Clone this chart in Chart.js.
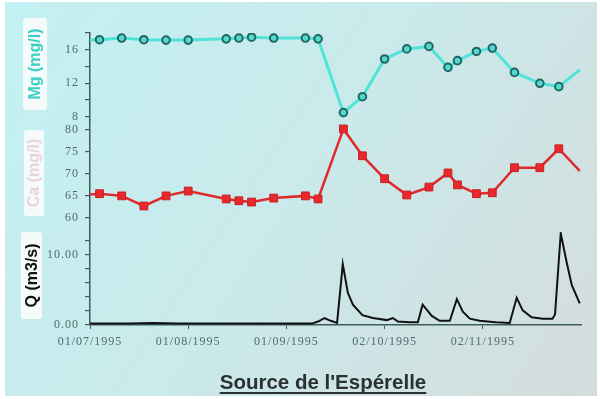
<!DOCTYPE html>
<html>
<head>
<meta charset="utf-8">
<script src="https://cdn.jsdelivr.net/npm/chart.js@4/dist/chart.umd.min.js"></script>
<style>
  html, body { margin: 0; padding: 0; background: #ffffff; }
  #wrap { width: 600px; height: 399px; }
</style>
</head>
<body>
<div id="wrap"><canvas id="c" width="600" height="399"></canvas></div>
<script>
// Sampling days, counted from 01/07/1995 (day 0)
const sampleDays = [0, 3, 10, 17, 24, 31, 43, 47, 51, 58, 68, 72, 80, 86, 93, 100, 107, 113, 116, 122, 127, 134, 142, 148, 154.6];
// Magnesium (mg/l)
const mgValues = [17.2, 17.2, 17.4, 17.2, 17.15, 17.15, 17.3, 17.4, 17.5, 17.4, 17.4, 17.3, 8.5, 10.4, 14.9, 16.1, 16.4, 13.9, 14.7, 15.8, 16.2, 13.3, 12.0, 11.6, 13.6];
// Calcium (mg/l)
const caValues = [65.3, 65.5, 65.0, 62.7, 65.0, 66.1, 64.3, 63.9, 63.6, 64.5, 65.0, 64.3, 80.2, 74.1, 68.9, 65.2, 67.0, 70.2, 67.5, 65.5, 65.7, 71.4, 71.4, 75.7, 70.7];
// Discharge Q (m3/s)
const qDays = [0, 5, 12, 20, 28, 31, 38, 45, 52, 60, 66, 70, 72, 74, 76, 78, 79.8, 81.4, 83, 86, 89.3, 93.7, 95.6, 97.2, 101, 103.5, 105, 107.9, 110.4, 113.6, 115.8, 117.7, 119.9, 123, 128, 132.5, 134.7, 136.6, 139.4, 142.9, 146, 146.8, 148.6, 150.5, 152.1, 154.6];
const qValues = [0.2, 0.2, 0.2, 0.3, 0.2, 0.2, 0.2, 0.2, 0.2, 0.2, 0.2, 0.2, 0.5, 1.0, 0.6, 0.3, 8.7, 4.6, 2.9, 1.4, 1.0, 0.7, 1.0, 0.5, 0.4, 0.4, 2.9, 1.3, 0.6, 0.6, 3.7, 1.9, 0.9, 0.6, 0.4, 0.3, 3.9, 2.1, 1.1, 0.9, 0.9, 1.5, 13.1, 8.9, 5.7, 3.1];

// Axis ticks
const dateTicks = [0, 31, 62, 93, 124];
const mgTicks = [8, 10, 12, 14, 16, 18];
const mgLabelled = [8, 12, 16];
const caTicks = [60, 65, 70, 75, 80];
const qTicks = [0, 2, 4, 6, 8, 10, 12];
const qLabelled = [0, 10];

const startDate = new Date(1995, 6, 1);
function dayLabel(d) {
  const dt = new Date(startDate.getTime());
  dt.setDate(dt.getDate() + d);
  const p = n => String(n).padStart(2, '0');
  return p(dt.getDate()) + '/' + p(dt.getMonth() + 1) + '/' + dt.getFullYear();
}
const toXY = (xs, ys) => xs.map((x, i) => ({ x, y: ys[i] }));
const endsHidden = (n, r) => Array.from({ length: n }, (_, i) => (i === 0 || i === n - 1) ? 0 : r);

const axisColor = '#3d5c5e';
const tickFont = { family: '"Liberation Serif", "Times New Roman", serif', size: 12 };
const tickColor = '#4f6b6d';

function yAxis(min, max, weight, ticks, labelled, fmt) {
  return {
    type: 'linear', position: 'left', stack: 'panels', stackWeight: weight,
    min, max,
    border: { display: true, color: axisColor, width: 1.5 },
    grid: { drawOnChartArea: false, drawTicks: true, tickLength: 5, color: axisColor, lineWidth: 1.2 },
    ticks: {
      font: tickFont, color: tickColor, padding: 6, autoSkip: false,
      callback: v => (labelled === null || labelled.includes(v)) ? fmt(v) : ''
    },
    afterBuildTicks: s => { s.ticks = ticks.map(v => ({ value: v })); },
    afterFit: s => { s.width = 90; }
  };
}

const backdrop = {
  id: 'backdrop',
  beforeDraw(chart) {
    const { ctx, width, height } = chart;
    ctx.save();
    ctx.fillStyle = '#ffffff';
    ctx.fillRect(0, 0, width, height);
    const g = ctx.createLinearGradient(0, 0, width, height);
    g.addColorStop(0, '#c3f1f3');
    g.addColorStop(0.5, '#cae9ea');
    g.addColorStop(1, '#d5dcdc');
    ctx.fillStyle = g;
    ctx.fillRect(5, 2, width - 8, height - 5);
    ctx.restore();
    ctx.letterSpacing = '1px';
  },
  beforeDatasetsDraw(chart) {
    const { ctx } = chart;
    ctx.save();
    ctx.letterSpacing = '0px';
    const boxes = [
      { x: 23, y: 18, w: 24, h: 92, text: 'Mg (mg/l)', color: '#3ccfc4' },
      { x: 24, y: 130, w: 20, h: 86, text: 'Ca (mg/l)', color: '#ead3de' },
      { x: 21, y: 232, w: 21, h: 87, text: 'Q (m3/s)', color: '#111111' }
    ];
    for (const b of boxes) {
      ctx.fillStyle = 'rgba(248,252,252,0.92)';
      ctx.beginPath();
      ctx.roundRect(b.x, b.y, b.w, b.h, 3);
      ctx.fill();
      ctx.translate(b.x + b.w / 2, b.y + b.h / 2);
      ctx.rotate(-Math.PI / 2);
      ctx.fillStyle = b.color;
      ctx.font = 'bold 16px "Liberation Sans", Arial, sans-serif';
      ctx.textAlign = 'center';
      ctx.textBaseline = 'middle';
      ctx.fillText(b.text, 0, 1);
      ctx.setTransform(1, 0, 0, 1, 0, 0);
    }
    ctx.restore();
  },
  afterDraw(chart) {
    const { ctx } = chart;
    ctx.save();
    ctx.letterSpacing = '0px';
    const title = "Source de l'Espérelle";
    ctx.font = 'bold 20.5px "Liberation Sans", Arial, sans-serif';
    ctx.fillStyle = '#2b3033';
    ctx.textAlign = 'center';
    ctx.textBaseline = 'alphabetic';
    const cx = 323, by = 389;
    ctx.fillText(title, cx, by);
    const w = ctx.measureText(title).width;
    ctx.fillRect(cx - w / 2, by + 3, w, 2);
    ctx.restore();
  }
};

new Chart(document.getElementById('c'), {
  type: 'line',
  data: {
    datasets: [
      {
        label: 'Q', yAxisID: 'yQ', data: toXY(qDays, qValues),
        borderColor: '#121212', borderWidth: 2, pointRadius: 0, tension: 0
      },
      {
        label: 'Ca', yAxisID: 'yCa', data: toXY(sampleDays, caValues),
        borderColor: '#df2a2c', borderWidth: 2.5,
        pointStyle: 'rect', pointRadius: endsHidden(sampleDays.length, 5.5),
        pointBackgroundColor: '#e8282c', pointBorderColor: '#c82024', pointBorderWidth: 1,
        tension: 0
      },
      {
        label: 'Mg', yAxisID: 'yMg', data: toXY(sampleDays, mgValues),
        borderColor: '#4fe3da', borderWidth: 3,
        pointStyle: 'circle', pointRadius: endsHidden(sampleDays.length, 3.8),
        pointBackgroundColor: '#55d8cf', pointBorderColor: '#1f6762', pointBorderWidth: 2,
        tension: 0
      }
    ]
  },
  options: {
    responsive: false,
    animation: false,
    layout: { padding: { top: 33, right: 19, bottom: 44, left: 0 } },
    plugins: { legend: { display: false }, tooltip: { enabled: false }, title: { display: false } },
    scales: {
      x: {
        type: 'linear', position: 'bottom', min: 0, max: 155,
        border: { display: true, color: axisColor, width: 1.5 },
        grid: { drawOnChartArea: false, tickLength: 4, color: axisColor },
        ticks: { font: tickFont, color: tickColor, padding: 6, maxRotation: 0, autoSkip: false, callback: v => dayLabel(v) },
        afterBuildTicks: s => { s.ticks = dateTicks.map(v => ({ value: v })); },
        afterFit: s => { s.height = 30; }
      },
      yQ: yAxis(0, 13.3, 93, qTicks, qLabelled, v => v.toFixed(2)),
      yCa: yAxis(56.8, 82, 111, caTicks, null, v => String(v)),
      yMg: yAxis(7.5, 18, 88, mgTicks, mgLabelled, v => String(v))
    }
  },
  plugins: [backdrop]
});
</script>
</body>
</html>
